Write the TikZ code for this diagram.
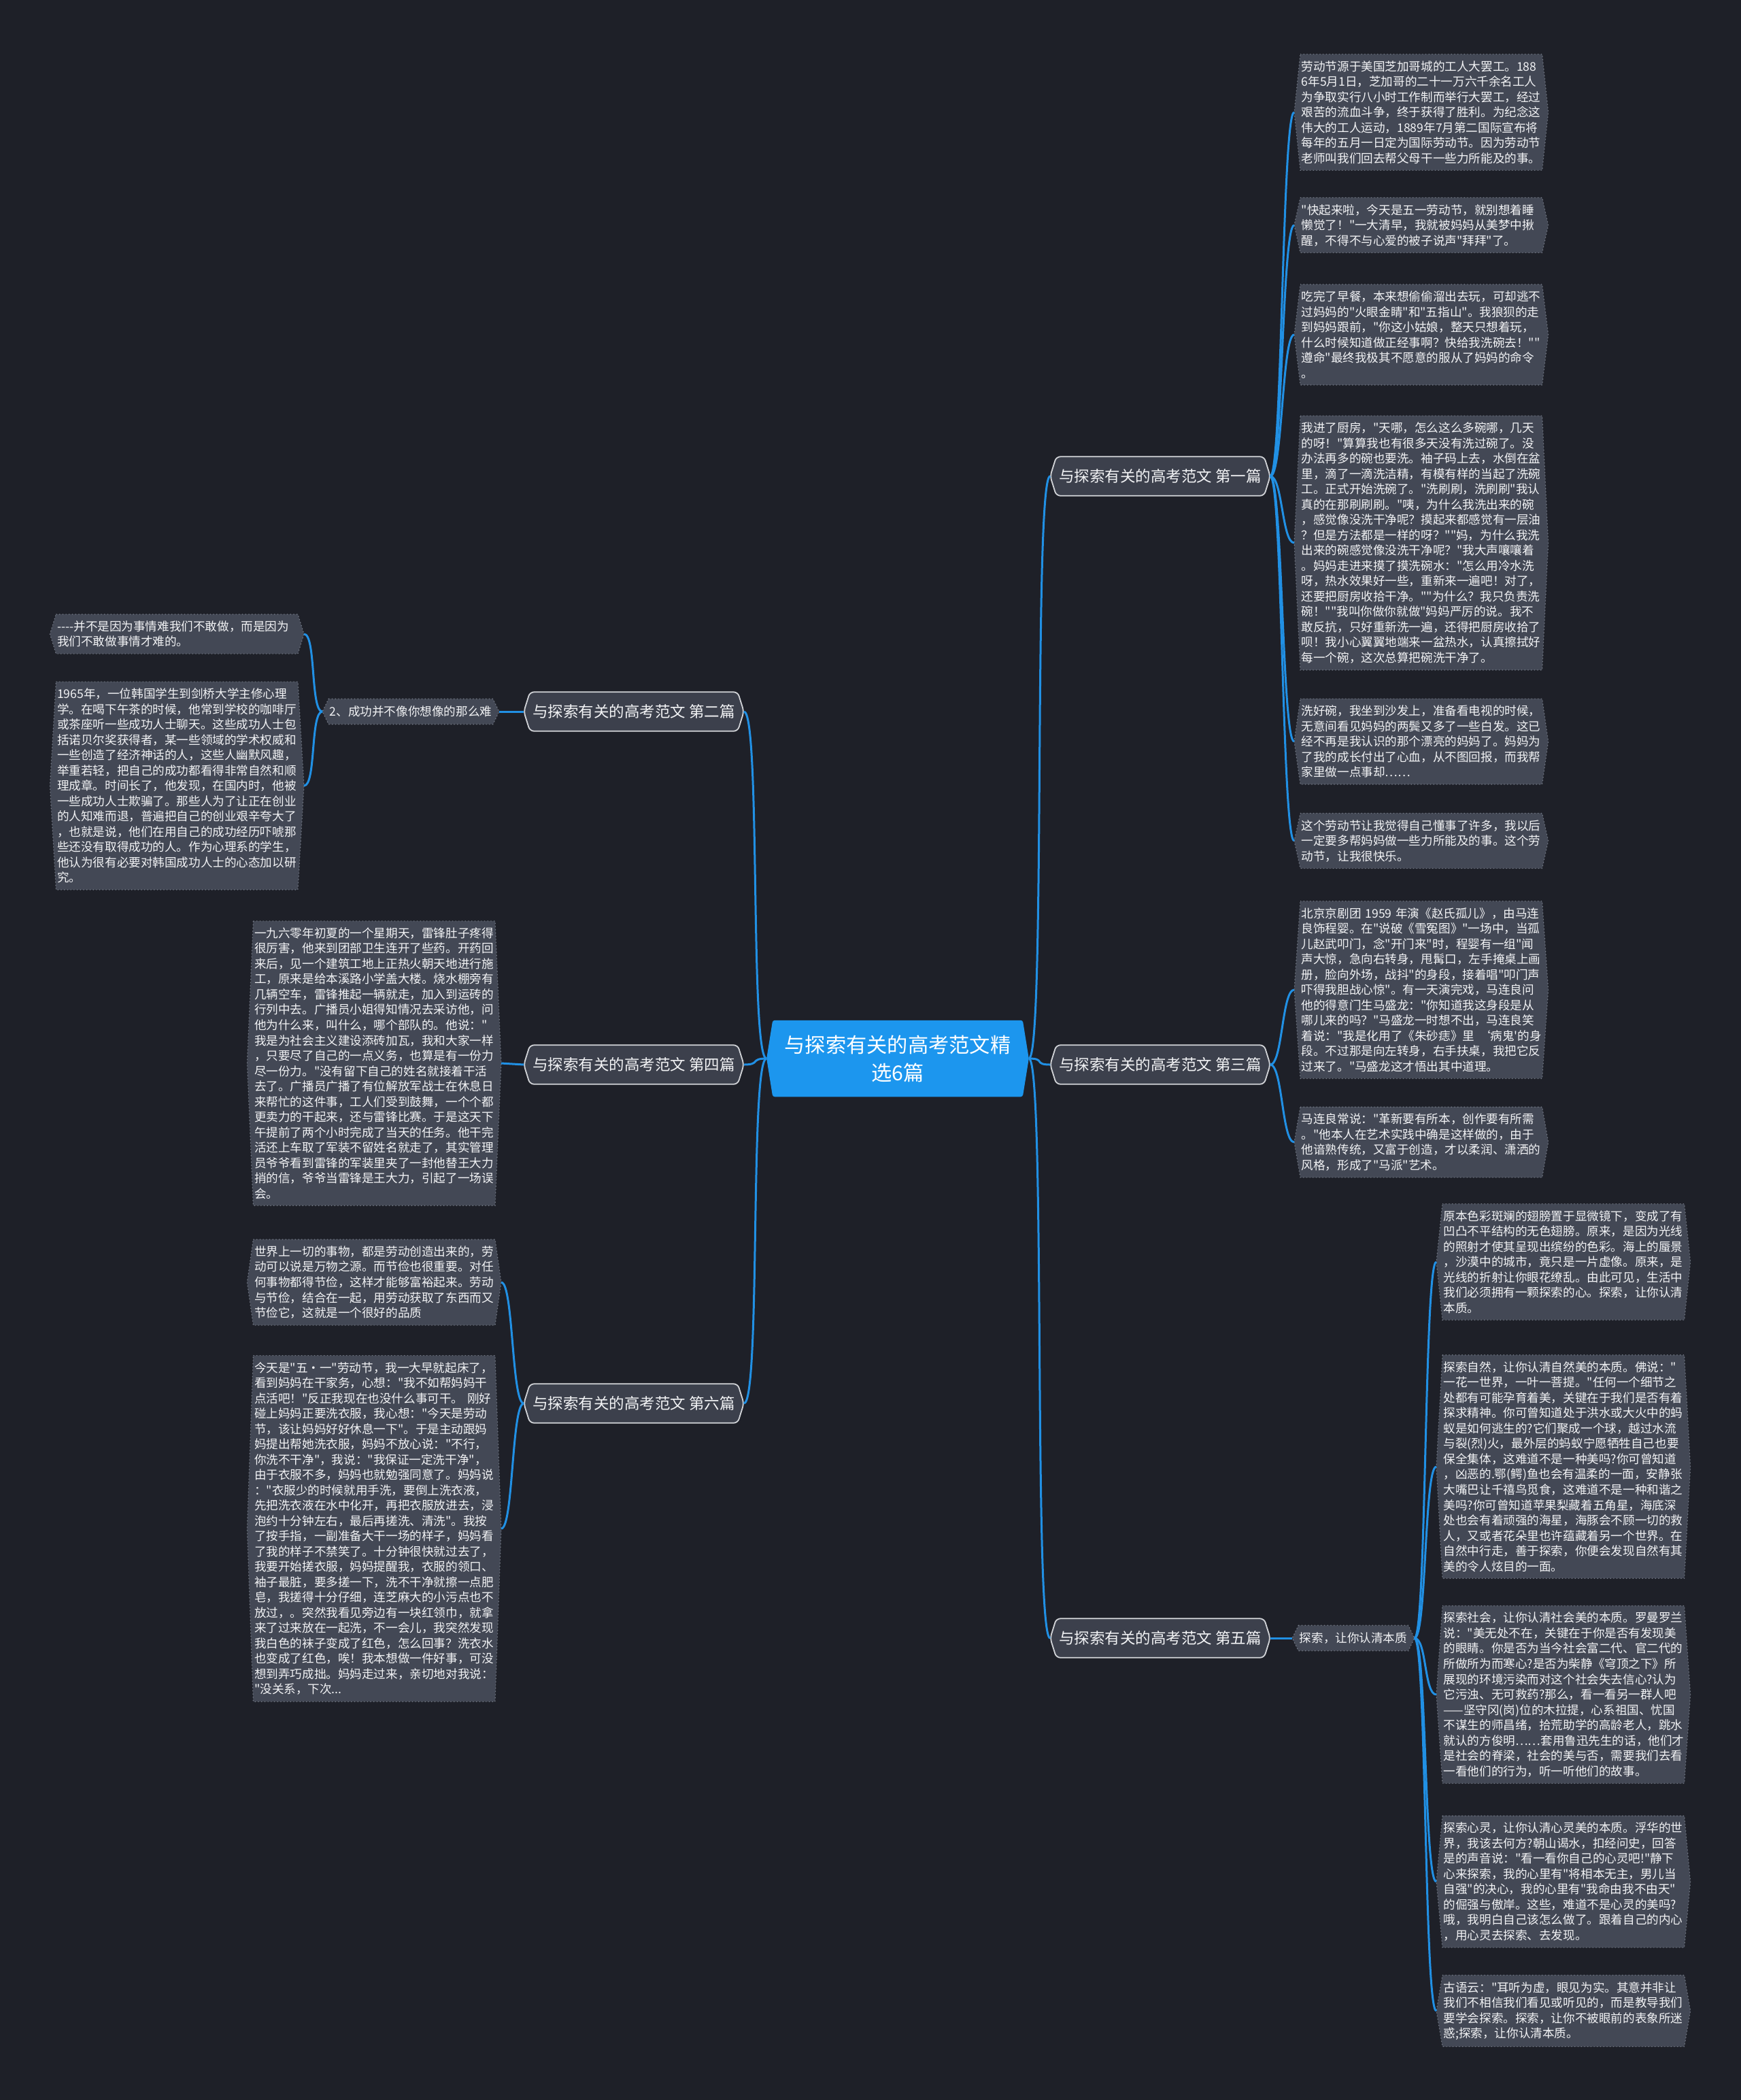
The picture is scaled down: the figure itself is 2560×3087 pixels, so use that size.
\documentclass[tikz,border=0pt]{standalone}
\usepackage{fontspec}
\setmainfont{Noto Sans CJK SC}[Ligatures=TeXOff]
\usetikzlibrary{backgrounds}
\definecolor{mapbg}{HTML}{1E2028}
\definecolor{leafgray}{HTML}{434855}
\definecolor{leafedge}{HTML}{7A808C}
\definecolor{branchgray}{HTML}{3C404C}
\definecolor{branchedge}{HTML}{D2D4D8}
\definecolor{rootblue}{HTML}{1C96EE}
\definecolor{linkblue}{HTML}{2190E4}
\definecolor{leaftext}{HTML}{F2F3F5}
\newcommand\leaffont{\fontsize{5pt}{6.4pt}\selectfont}

\begin{document}
\begin{tikzpicture}[x=0.01cm, y=-0.01cm,
    leaf/.style={inner xsep=0.1cm, inner ysep=0.09cm, text width=3.52cm, align=left, text=leaftext, font=\leaffont},
    sub/.style={inner xsep=0.1cm, inner ysep=0.05cm, minimum height=0.36cm, text=leaftext, font=\leaffont},
    branch/.style={minimum width=3.22cm, minimum height=0.56cm, text=leaftext, font=\fontsize{6.4pt}{7.5pt}\selectfont},
    root/.style={minimum width=3.84cm, minimum height=1.11cm, align=center, text=white, font=\fontsize{8.6pt}{11.6pt}\selectfont},
    link/.style={draw=linkblue, line width=0.03cm},
    hexof/.style={insert path={([xshift=0.09cm]#1.north west) -- ([xshift=-0.09cm]#1.north east) -- (#1.east)
      -- ([xshift=-0.09cm]#1.south east) -- ([xshift=0.09cm]#1.south west) -- (#1.west) -- cycle}},
    leafbg/.style={fill=leafgray, draw=leafedge, densely dotted, line width=0.012cm},
    branchbg/.style={fill=branchgray, draw=branchedge, line width=0.018cm, rounded corners=0.06cm},
    rootbg/.style={fill=rootblue, rounded corners=0.03cm}]
  \useasboundingbox (0,0) rectangle (2560,3087);

  % centre and the six essays
  \node[root] (root) at (1320,1556) {与探索有关的高考范文精\\选6篇};
  \node[branch] (b1) at (1706,700) {与探索有关的高考范文 第一篇};
  \node[branch] (b3) at (1706,1565) {与探索有关的高考范文 第三篇};
  \node[branch] (b5) at (1706,2408) {与探索有关的高考范文 第五篇};
  \node[branch] (b2) at (932,1046) {与探索有关的高考范文 第二篇};
  \node[branch] (b4) at (932,1565) {与探索有关的高考范文 第四篇};
  \node[branch] (b6) at (932,2063) {与探索有关的高考范文 第六篇};
  \node[sub] (s2) at (604,1046) {2、成功并不像你想像的那么难};
  \node[sub] (s5) at (1990,2408) {探索，让你认清本质};

  % first essay
  \node[leaf, anchor=west] (l1a) at (1903,165) {劳动节源于美国芝加哥城的工人大罢工。188\\6年5月1日，芝加哥的二十一万六千余名工人\\为争取实行八小时工作制而举行大罢工，经过\\艰苦的流血斗争，终于获得了胜利。为纪念这\\伟大的工人运动，1889年7月第二国际宣布将\\每年的五月一日定为国际劳动节。因为劳动节\\老师叫我们回去帮父母干一些力所能及的事。};
  \node[leaf, anchor=west] (l1b) at (1903,331) {"快起来啦，今天是五一劳动节，就别想着睡\\懒觉了！"一大清早，我就被妈妈从美梦中揪\\醒，不得不与心爱的被子说声"拜拜"了。};
  \node[leaf, anchor=west] (l1c) at (1903,492) {吃完了早餐，本来想偷偷溜出去玩，可却逃不\\过妈妈的"火眼金睛"和"五指山"。我狼狈的走\\到妈妈跟前，"你这小姑娘，整天只想着玩，\\什么时候知道做正经事啊？快给我洗碗去！""\\遵命"最终我极其不愿意的服从了妈妈的命令\\。};
  \node[leaf, anchor=west] (l1d) at (1903,798) {我进了厨房，"天哪，怎么这么多碗哪，几天\\的呀！"算算我也有很多天没有洗过碗了。没\\办法再多的碗也要洗。袖子码上去，水倒在盆\\里，滴了一滴洗洁精，有模有样的当起了洗碗\\工。正式开始洗碗了。"洗刷刷，洗刷刷"我认\\真的在那刷刷刷。"咦，为什么我洗出来的碗\\，感觉像没洗干净呢？摸起来都感觉有一层油\\？但是方法都是一样的呀？""妈，为什么我洗\\出来的碗感觉像没洗干净呢？"我大声嚷嚷着\\。妈妈走进来摸了摸洗碗水："怎么用冷水洗\\呀，热水效果好一些，重新来一遍吧！对了，\\还要把厨房收拾干净。""为什么？我只负责洗\\碗！""我叫你做你就做"妈妈严厉的说。我不\\敢反抗，只好重新洗一遍，还得把厨房收拾了\\呗！我小心翼翼地端来一盆热水，认真擦拭好\\每一个碗，这次总算把碗洗干净了。};
  \node[leaf, anchor=west] (l1e) at (1903,1090) {洗好碗，我坐到沙发上，准备看电视的时候，\\无意间看见妈妈的两鬓又多了一些白发。这已\\经不再是我认识的那个漂亮的妈妈了。妈妈为\\了我的成长付出了心血，从不图回报，而我帮\\家里做一点事却……};
  \node[leaf, anchor=west] (l1f) at (1903,1236) {这个劳动节让我觉得自己懂事了许多，我以后\\一定要多帮妈妈做一些力所能及的事。这个劳\\动节，让我很快乐。};

  % third essay
  \node[leaf, anchor=west] (l3a) at (1903,1455) {北京京剧团~1959~年演《赵氏孤儿》，由马连\\良饰程婴。在"说破《雪冤图》"一场中，当孤\\儿赵武叩门，念"开门来"时，程婴有一组"闻\\声大惊，急向右转身，甩髯口，左手掩桌上画\\册，脸向外场，战抖"的身段，接着唱"叩门声\\吓得我胆战心惊"。有一天演完戏，马连良问\\他的得意门生马盛龙："你知道我这身段是从\\哪儿来的吗？"马盛龙一时想不出，马连良笑\\着说："我是化用了《朱砂痣》里~‘病鬼'的身\\段。不过那是向左转身，右手扶桌，我把它反\\过来了。"马盛龙这才悟出其中道理。};
  \node[leaf, anchor=west] (l3b) at (1903,1679) {马连良常说："革新要有所本，创作要有所需\\。"他本人在艺术实践中确是这样做的，由于\\他谙熟传统，又富于创造，才以柔润、潇洒的\\风格，形成了"马派"艺术。};

  % fifth essay
  \node[leaf, anchor=west] (l5a) at (2112,1855) {原本色彩斑斓的翅膀置于显微镜下，变成了有\\凹凸不平结构的无色翅膀。原来，是因为光线\\的照射才使其呈现出缤纷的色彩。海上的蜃景\\，沙漠中的城市，竟只是一片虚像。原来，是\\光线的折射让你眼花缭乱。由此可见，生活中\\我们必须拥有一颗探索的心。探索，让你认清\\本质。};
  \node[leaf, anchor=west] (l5b) at (2112,2156) {探索自然，让你认清自然美的本质。佛说："\\一花一世界，一叶一菩提。"任何一个细节之\\处都有可能孕育着美，关键在于我们是否有着\\探求精神。你可曾知道处于洪水或大火中的蚂\\蚁是如何逃生的?它们聚成一个球，越过水流\\与裂(烈)火，最外层的蚂蚁宁愿牺牲自己也要\\保全集体，这难道不是一种美吗?你可曾知道\\，凶恶的.鄂(鳄)鱼也会有温柔的一面，安静张\\大嘴巴让千禧鸟觅食，这难道不是一种和谐之\\美吗?你可曾知道苹果梨藏着五角星，海底深\\处也会有着顽强的海星，海豚会不顾一切的救\\人，又或者花朵里也许蕴藏着另一个世界。在\\自然中行走，善于探索，你便会发现自然有其\\美的令人炫目的一面。};
  \node[leaf, anchor=west] (l5c) at (2112,2491) {探索社会，让你认清社会美的本质。罗曼罗兰\\说："美无处不在，关键在于你是否有发现美\\的眼睛。你是否为当今社会富二代、官二代的\\所做所为而寒心?是否为柴静《穹顶之下》所\\展现的环境污染而对这个社会失去信心?认为\\它污浊、无可救药?那么，看一看另一群人吧\\——坚守冈(岗)位的木拉提，心系祖国、忧国\\不谋生的师昌绪，拾荒助学的高龄老人，跳水\\就认的方俊明……套用鲁迅先生的话，他们才\\是社会的脊梁，社会的美与否，需要我们去看\\一看他们的行为，听一听他们的故事。};
  \node[leaf, anchor=west] (l5d) at (2112,2766) {探索心灵，让你认清心灵美的本质。浮华的世\\界，我该去何方?朝山谒水，扣经问史，回答\\是的声音说："看一看你自己的心灵吧!"静下\\心来探索，我的心里有"将相本无主，男儿当\\自强"的决心，我的心里有"我命由我不由天"\\的倔强与傲岸。这些，难道不是心灵的美吗?\\哦，我明白自己该怎么做了。跟着自己的内心\\，用心灵去探索、去发现。};
  \node[leaf, anchor=west] (l5e) at (2112,2956) {古语云："耳听为虚，眼见为实。其意并非让\\我们不相信我们看见或听见的，而是教导我们\\要学会探索。探索，让你不被眼前的表象所迷\\惑;探索，让你认清本质。};

  % second essay
  \node[leaf, anchor=east] (l2a) at (447,932) {----并不是因为事情难我们不敢做，而是因为\\我们不敢做事情才难的。};
  \node[leaf, anchor=east] (l2b) at (447,1155) {1965年，一位韩国学生到剑桥大学主修心理\\学。在喝下午茶的时候，他常到学校的咖啡厅\\或茶座听一些成功人士聊天。这些成功人士包\\括诺贝尔奖获得者，某一些领域的学术权威和\\一些创造了经济神话的人，这些人幽默风趣，\\举重若轻，把自己的成功都看得非常自然和顺\\理成章。时间长了，他发现，在国内时，他被\\一些成功人士欺骗了。那些人为了让正在创业\\的人知难而退，普遍把自己的创业艰辛夸大了\\，也就是说，他们在用自己的成功经历吓唬那\\些还没有取得成功的人。作为心理系的学生，\\他认为很有必要对韩国成功人士的心态加以研\\究。};

  % fourth essay
  \node[leaf, anchor=east] (l4) at (737,1563) {一九六零年初夏的一个星期天，雷锋肚子疼得\\很厉害，他来到团部卫生连开了些药。开药回\\来后，见一个建筑工地上正热火朝天地进行施\\工，原来是给本溪路小学盖大楼。烧水棚旁有\\几辆空车，雷锋推起一辆就走，加入到运砖的\\行列中去。广播员小姐得知情况去采访他，问\\他为什么来，叫什么，哪个部队的。他说："\\我是为社会主义建设添砖加瓦，我和大家一样\\，只要尽了自己的一点义务，也算是有一份力\\尽一份力。"没有留下自己的姓名就接着干活\\去了。广播员广播了有位解放军战士在休息日\\来帮忙的这件事，工人们受到鼓舞，一个个都\\更卖力的干起来，还与雷锋比赛。于是这天下\\午提前了两个小时完成了当天的任务。他干完\\活还上车取了军装不留姓名就走了，其实管理\\员爷爷看到雷锋的军装里夹了一封他替王大力\\捎的信，爷爷当雷锋是王大力，引起了一场误\\会。};

  % sixth essay
  \node[leaf, anchor=east] (l6a) at (737,1885) {世界上一切的事物，都是劳动创造出来的，劳\\动可以说是万物之源。而节俭也很重要。对任\\何事物都得节俭，这样才能够富裕起来。劳动\\与节俭，结合在一起，用劳动获取了东西而又\\节俭它，这就是一个很好的品质};
  \node[leaf, anchor=east] (l6b) at (737,2247) {今天是"五·一"劳动节，我一大早就起床了，\\看到妈妈在干家务，心想："我不如帮妈妈干\\点活吧！"反正我现在也没什么事可干。~刚好\\碰上妈妈正要洗衣服，我心想："今天是劳动\\节，该让妈妈好好休息一下"。于是主动跟妈\\妈提出帮她洗衣服，妈妈不放心说："不行，\\你洗不干净"，我说："我保证一定洗干净"，\\由于衣服不多，妈妈也就勉强同意了。妈妈说\\："衣服少的时候就用手洗，要倒上洗衣液，\\先把洗衣液在水中化开，再把衣服放进去，浸\\泡约十分钟左右，最后再搓洗、清洗"。我按\\了按手指，一副准备大干一场的样子，妈妈看\\了我的样子不禁笑了。十分钟很快就过去了，\\我要开始搓衣服，妈妈提醒我，衣服的领口、\\袖子最脏，要多搓一下，洗不干净就擦一点肥\\皂，我搓得十分仔细，连芝麻大的小污点也不\\放过，。突然我看见旁边有一块红领巾，就拿\\来了过来放在一起洗，不一会儿，我突然发现\\我白色的袜子变成了红色，怎么回事？洗衣水\\也变成了红色，唉！我本想做一件好事，可没\\想到弄巧成拙。妈妈走过来，亲切地对我说：\\"没关系，下次...};

  % boxes behind the texts
  \begin{scope}[on background layer]
    \fill[mapbg] (0,0) rectangle (2560,3087);
    \foreach \n in {l1a,l1b,l1c,l1d,l1e,l1f,l3a,l3b,l5a,l5b,l5c,l5d,l5e,l2a,l2b,l4,l6a,l6b,s2,s5}
      \path[leafbg, hexof=\n];
    \foreach \n in {b1,b2,b3,b4,b5,b6}
      \path[branchbg, hexof=\n];
    \path[rootbg, hexof=root];
  \end{scope}

  % connectors
  \foreach \b in {b1,b3,b5}
    \draw[link] (root.east) .. controls +(25,0) and +(-25,0) .. (\b.west);
  \foreach \b in {b2,b4,b6}
    \draw[link] (root.west) .. controls +(-25,0) and +(25,0) .. (\b.east);
  \foreach \l in {l1a,l1b,l1c,l1d,l1e,l1f}
    \draw[link] (b1.east) .. controls +(18,0) and +(-18,0) .. (\l.west);
  \foreach \l in {l3a,l3b}
    \draw[link] (b3.east) .. controls +(18,0) and +(-18,0) .. (\l.west);
  \draw[link] (b5.east) -- (s5.west);
  \foreach \l in {l5a,l5b,l5c,l5d,l5e}
    \draw[link] (s5.east) .. controls +(18,0) and +(-18,0) .. (\l.west);
  \draw[link] (b2.west) -- (s2.east);
  \foreach \l in {l2a,l2b}
    \draw[link] (s2.west) .. controls +(-18,0) and +(18,0) .. (\l.east);
  \draw[link] (b4.west) -- (l4.east);
  \foreach \l in {l6a,l6b}
    \draw[link] (b6.west) .. controls +(-18,0) and +(18,0) .. (\l.east);
\end{tikzpicture}
\end{document}
